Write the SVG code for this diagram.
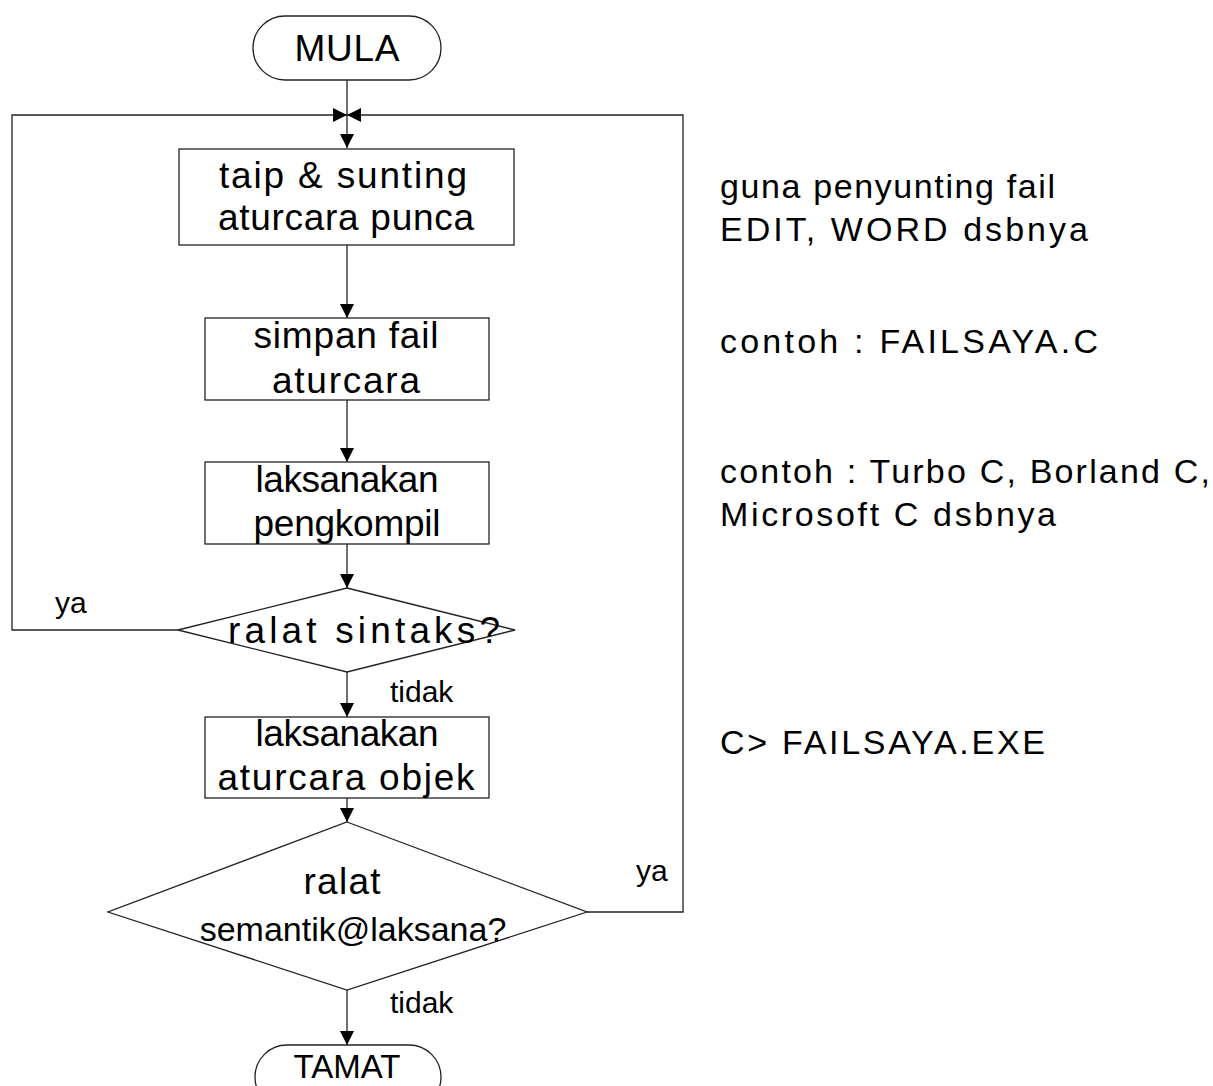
<svg xmlns="http://www.w3.org/2000/svg" width="1213" height="1086" viewBox="0 0 1213 1086">
<defs>
<marker id="ah" viewBox="0 0 14 14" refX="14" refY="7" markerWidth="14" markerHeight="14" markerUnits="userSpaceOnUse" orient="auto">
<path d="M0,0 L14,7 L0,14 Z" fill="#000"/>
</marker>
</defs>
<style>
.s{fill:#fff;stroke:#222;stroke-width:1.3}
.c{fill:none;stroke:#222;stroke-width:1.3}
.t{font-family:"Liberation Sans",Arial,sans-serif;font-size:37px;fill:#000;text-anchor:middle}
.n{font-family:"Liberation Sans",Arial,sans-serif;font-size:34px;fill:#000}
.l{font-family:"Liberation Sans",Arial,sans-serif;font-size:30px;fill:#000}
</style>
<rect width="1213" height="1086" fill="#fff"/>
<g id="connectors">
<path class="c" d="M347,80 V148" marker-end="url(#ah)"/>
<path class="c" d="M178,630 H12 V115 H347" marker-end="url(#ah)"/>
<path class="c" d="M587,912 H683 V115 H347" marker-end="url(#ah)"/>
<path class="c" d="M347,245 V318" marker-end="url(#ah)"/>
<path class="c" d="M347,400 V462" marker-end="url(#ah)"/>
<path class="c" d="M347,544 V588" marker-end="url(#ah)"/>
<path class="c" d="M347,672 V717" marker-end="url(#ah)"/>
<path class="c" d="M347,798 V822" marker-end="url(#ah)"/>
<path class="c" d="M347,990 V1045" marker-end="url(#ah)"/>
</g>
<g id="mula">
<rect class="s" x="253" y="16" width="188" height="64" rx="32"/>
<text class="t" x="347" y="61" textLength="105" lengthAdjust="spacing">MULA</text>
</g>
<g id="taip">
<rect class="s" x="179" y="149" width="335" height="96"/>
<text class="t" x="343" y="188" textLength="248" lengthAdjust="spacing">taip &amp; sunting</text>
<text class="t" x="346" y="230" textLength="256" lengthAdjust="spacing">aturcara punca</text>
</g>
<g id="simpan">
<rect class="s" x="205" y="318" width="284" height="82"/>
<text class="t" x="346" y="348" textLength="185" lengthAdjust="spacing">simpan fail</text>
<text class="t" x="346" y="393" textLength="148" lengthAdjust="spacing">aturcara</text>
</g>
<g id="kompil">
<rect class="s" x="205" y="462" width="284" height="82"/>
<text class="t" x="347" y="492" textLength="183" lengthAdjust="spacing">laksanakan</text>
<text class="t" x="347" y="536" textLength="187" lengthAdjust="spacing">pengkompil</text>
</g>
<g id="sintaks">
<polygon class="s" points="347,588 515,630 347,672 178,630"/>
<text class="t" x="364" y="643" textLength="272" lengthAdjust="spacing">ralat sintaks?</text>
</g>
<g id="objek">
<rect class="s" x="205" y="717" width="284" height="81"/>
<text class="t" x="347" y="746" textLength="183" lengthAdjust="spacing">laksanakan</text>
<text class="t" x="346" y="790" textLength="257" lengthAdjust="spacing">aturcara objek</text>
</g>
<g id="semantik">
<polygon class="s" points="347,822 587,912 347,990 108,912"/>
<text class="t" x="342" y="894" textLength="77" lengthAdjust="spacing">ralat</text>
<text class="t" x="353" y="941" style="font-size:34px">semantik@laksana?</text>
</g>
<g id="tamat">
<rect class="s" x="255" y="1045" width="186" height="64" rx="32"/>
<text class="t" x="347" y="1078" style="font-size:33px">TAMAT</text>
</g>
<g id="labels">
<text class="l" x="55" y="613">ya</text>
<text class="l" x="390" y="702">tidak</text>
<text class="l" x="636" y="881">ya</text>
<text class="l" x="390" y="1013">tidak</text>
</g>
<g id="notes">
<text class="n" x="720" y="198" textLength="335" lengthAdjust="spacing">guna penyunting fail</text>
<text class="n" x="720" y="241" textLength="368" lengthAdjust="spacing">EDIT, WORD dsbnya</text>
<text class="n" x="720" y="353" textLength="378" lengthAdjust="spacing">contoh : FAILSAYA.C</text>
<text class="n" x="720" y="483" textLength="490" lengthAdjust="spacing">contoh : Turbo C, Borland C,</text>
<text class="n" x="720" y="526" textLength="336" lengthAdjust="spacing">Microsoft C dsbnya</text>
<text class="n" x="720" y="754" textLength="325" lengthAdjust="spacing">C&gt; FAILSAYA.EXE</text>
</g>
</svg>
